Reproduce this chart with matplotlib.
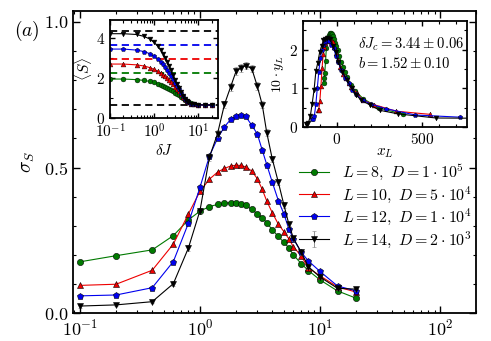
import numpy as np
import matplotlib
matplotlib.use("Agg")
import matplotlib.pyplot as plt
from matplotlib.ticker import MultipleLocator, FuncFormatter, LogLocator

plt.rcParams['font.family'] = 'serif'
plt.rcParams['font.serif'] = ['cmr10', 'DejaVu Serif']
plt.rcParams['mathtext.fontset'] = 'cm'
plt.rcParams['axes.formatter.use_mathtext'] = True
plt.rcParams['axes.unicode_minus'] = False

# disorder strengths (shared by all curves)
dJ = [0.1, 0.2, 0.4, 0.6, 0.8, 1.0, 1.2, 1.4, 1.6, 1.8, 2.0, 2.2, 2.4, 2.7,
      3.0, 3.3, 3.6, 4.0, 4.5, 5.0, 5.5, 6.0, 7.0, 8.0, 10.0, 14.0, 20.0]

# sigma_S, main panel
sig_L8 = [0.176, 0.197, 0.217, 0.266, 0.320, 0.350, 0.366, 0.373, 0.377, 0.379,
          0.379, 0.376, 0.370, 0.356, 0.341, 0.327, 0.311, 0.286, 0.263, 0.243,
          0.224, 0.200, 0.169, 0.146, 0.114, 0.076, 0.051]
sig_L10 = [0.095, 0.099, 0.147, 0.237, 0.340, 0.418, 0.460, 0.484, 0.497, 0.505,
           0.508, 0.507, 0.502, 0.488, 0.462, 0.425, 0.385, 0.345, 0.305, 0.280,
           0.255, 0.228, 0.195, 0.155, 0.128, 0.090, 0.072]
sig_L12 = [0.059, 0.062, 0.087, 0.177, 0.308, 0.432, 0.540, 0.600, 0.640, 0.665,
           0.678, 0.681, 0.676, 0.645, 0.616, 0.560, 0.510, 0.450, 0.386, 0.341,
           0.289, 0.255, 0.208, 0.179, 0.143, 0.093, 0.076]
sig_L14 = [0.024, 0.028, 0.039, 0.101, 0.223, 0.352, 0.536, 0.616, 0.717, 0.777,
           0.831, 0.842, 0.850, 0.840, 0.780, 0.716, 0.620, 0.530, 0.449, 0.372,
           0.306, 0.257, 0.208, 0.159, 0.124, 0.085, 0.082]
err_L14 = [0.005, 0.005, 0.005, 0.008, 0.01, 0.01, 0.012, 0.012, 0.013, 0.013,
           0.013, 0.013, 0.013, 0.013, 0.013, 0.012, 0.012, 0.01, 0.01, 0.01,
           0.008, 0.008, 0.008, 0.006, 0.006, 0.006, 0.006]

# <S>, left inset
S_L8 = [1.95, 1.95, 1.92, 1.88, 1.83, 1.78, 1.72, 1.66, 1.61, 1.56, 1.51, 1.46,
        1.41, 1.34, 1.27, 1.20, 1.14, 1.07, 0.98, 0.91, 0.85, 0.80, 0.73, 0.69,
        0.66, 0.65, 0.65]
S_L10 = [2.70, 2.70, 2.66, 2.60, 2.52, 2.44, 2.35, 2.26, 2.17, 2.08, 1.99, 1.90,
         1.82, 1.69, 1.57, 1.45, 1.35, 1.22, 1.07, 0.95, 0.86, 0.80, 0.72, 0.68,
         0.66, 0.65, 0.65]
S_L12 = [3.45, 3.45, 3.40, 3.32, 3.22, 3.10, 2.96, 2.82, 2.68, 2.54, 2.40, 2.26,
         2.12, 1.93, 1.75, 1.58, 1.43, 1.26, 1.08, 0.95, 0.85, 0.79, 0.72, 0.68,
         0.66, 0.65, 0.65]
S_L14 = [4.22, 4.22, 4.18, 4.08, 3.95, 3.78, 3.60, 3.42, 3.22, 3.02, 2.82, 2.62,
         2.42, 2.15, 1.90, 1.68, 1.50, 1.30, 1.10, 0.96, 0.86, 0.79, 0.72, 0.68,
         0.66, 0.65, 0.65]
S_page = [2.27, 2.97, 3.66, 4.35]
S_low = 0.66

# scaling collapse (right inset)
dJc = 3.44
b_exp = 1.52
y_factor = [6.4, 4.5, 3.3, 2.7]

sizes = [8, 10, 12, 14]
labels = [r'$L=8,\ D=1\cdot10^5$', r'$L=10,\ D=5\cdot10^4$',
          r'$L=12,\ D=1\cdot10^4$', r'$L=14,\ D=2\cdot10^3$']
colors = ['#007a00', '#ee0000', '#0000ee', 'k']
markers = ['o', '^', 'p', 'v']
sigmas = [sig_L8, sig_L10, sig_L12, sig_L14]
Svals = [S_L8, S_L10, S_L12, S_L14]


def style_ticks(ax, labsize):
    ax.tick_params(which='both', direction='in', top=True, right=True,
                   labelsize=labsize)
    ax.tick_params(which='major', length=5, width=1)
    ax.tick_params(which='minor', length=2.5, width=0.8)
    for s in ax.spines.values():
        s.set_linewidth(1.3)


fig = plt.figure(figsize=(4.91, 3.41), dpi=100)
ax = fig.add_axes([0.1487, 0.082, 0.821, 0.886])

for i in range(4):
    if i == 3:
        ax.errorbar(dJ, sigmas[i], yerr=err_L14, color=colors[i], marker=markers[i],
                    ms=4, lw=0.8, mew=0.4, mec='k', capsize=1.5, elinewidth=0.6,
                    ecolor='gray', label=labels[i])
    else:
        ax.plot(dJ, sigmas[i], color=colors[i], marker=markers[i], ms=4.5, lw=0.8,
                mew=0.4, mec='k', label=labels[i])

ax.set_xscale('log')
ax.set_xlim(0.0875, 200)
ax.set_ylim(0, 1.038)
ax.yaxis.set_major_locator(MultipleLocator(0.5))
ax.yaxis.set_minor_locator(MultipleLocator(0.1))
ax.yaxis.set_major_formatter(FuncFormatter(lambda v, p: '$%.1f$' % v))
style_ticks(ax, 13)
ax.set_ylabel(r'$\sigma_S$', fontsize=14, labelpad=5)
fig.text(0.028, 0.895, r'$(a)$', fontsize=14)

leg = ax.legend(loc='upper left', bbox_to_anchor=(0.545, 0.52), frameon=False,
                fontsize=11.5, handlelength=1.9, handletextpad=0.8,
                labelspacing=0.12, borderaxespad=0)

# left inset: entanglement entropy
ax1 = fig.add_axes([0.224, 0.654, 0.22, 0.287])
for y0, c in zip(S_page, colors):
    ax1.axhline(y0, color=c, ls='--', lw=1.3, dashes=(4, 2.5))
ax1.axhline(S_low, color='k', ls='--', lw=1.3, dashes=(4, 2.5))
for i in range(4):
    ax1.plot(dJ, Svals[i], color=colors[i], marker=markers[i], ms=3.5, lw=0.8,
             mew=0.3, mec='k')
ax1.set_xscale('log')
ax1.set_xlim(0.1, 28)
ax1.set_ylim(0, 4.9)
ax1.yaxis.set_major_locator(MultipleLocator(2))
ax1.yaxis.set_minor_locator(MultipleLocator(1))
ax1.xaxis.set_major_locator(LogLocator(base=10, numticks=10))
style_ticks(ax1, 11)
ax1.tick_params(which='major', length=3.5)
ax1.tick_params(which='minor', length=2)
ax1.set_xlabel(r'$\delta J$', fontsize=11, labelpad=1)
ax1.set_ylabel(r'$\langle S\rangle$', fontsize=11, labelpad=1)

# right inset: scaling collapse
ax2 = fig.add_axes([0.617, 0.628, 0.334, 0.311])
for i in range(4):
    xL = (np.array(dJ) - dJc) * sizes[i] ** b_exp
    yL = np.array(sigmas[i]) * y_factor[i]
    ax2.plot(xL, yL, color=colors[i], marker=markers[i], ms=3.5, lw=0.8,
             mew=0.3, mec='k')
ax2.set_xlim(-200, 765)
ax2.set_ylim(0, 2.75)
ax2.xaxis.set_major_locator(MultipleLocator(500))
ax2.xaxis.set_minor_locator(MultipleLocator(100))
ax2.yaxis.set_major_locator(MultipleLocator(1))
ax2.yaxis.set_minor_locator(MultipleLocator(0.5))
style_ticks(ax2, 11)
ax2.tick_params(which='major', length=3.5)
ax2.tick_params(which='minor', length=2)
ax2.set_xlabel(r'$x_L$', fontsize=11, labelpad=0)
ax2.set_ylabel(r'$10\cdot y_L$', fontsize=10, labelpad=2)
ax2.text(0.335, 0.78, r'$\delta J_c=3.44\pm0.06$', transform=ax2.transAxes,
         fontsize=10.5, va='center')
ax2.text(0.335, 0.60, r'$b=1.52\pm0.10$', transform=ax2.transAxes,
         fontsize=10.5, va='center')

fig.savefig('out.png', dpi=100)
